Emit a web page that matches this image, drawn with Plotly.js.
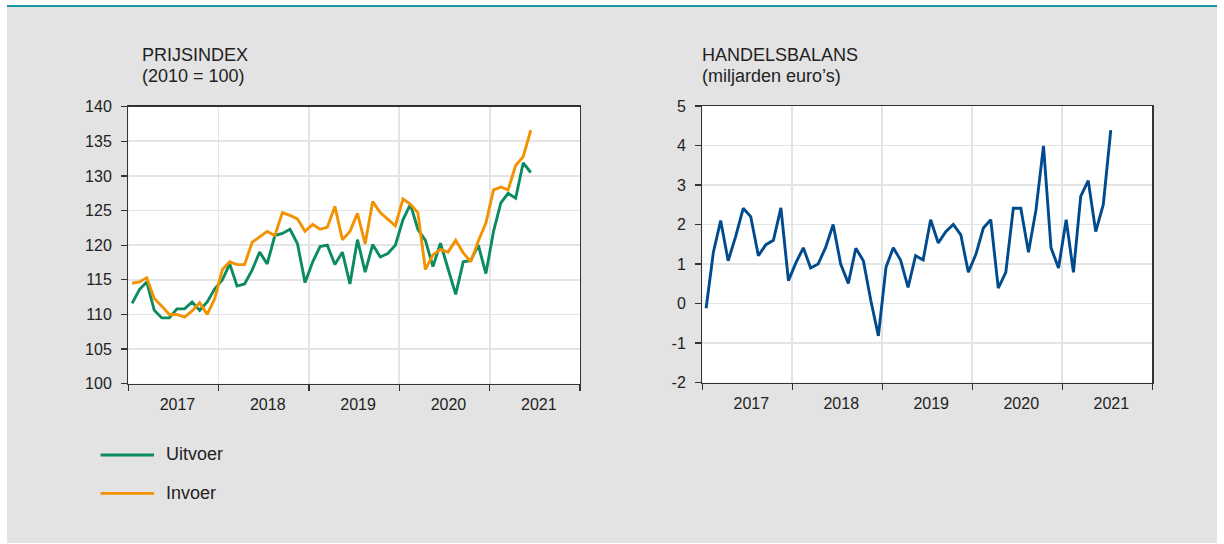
<!DOCTYPE html>
<html>
<head>
<meta charset="utf-8">
<script src="https://cdn.plot.ly/plotly-3.0.1.min.js"></script>
<style>
  html, body { margin: 0; padding: 0; background: #ffffff; }
  #wrap { position: relative; width: 1224px; height: 544px; overflow: hidden; }
  #bg { position: absolute; left: 7px; top: 5px; width: 1210px; height: 536px;
        background: #e3e3e3; border-top: 2px solid #1a98a3; }
  #chart { position: absolute; left: 0; top: 0; width: 1224px; height: 544px; }
</style>
</head>
<body>
<div id="wrap">
  <div id="bg"></div>
  <div id="chart"></div>
</div>
<script>
// ---- data (monthly, starting January 2017) ----
var startYear = 2017;
var yearLabels = ["2017", "2018", "2019", "2020", "2021"];

var uitvoer = [
  111.6, 113.6, 114.7, 110.6, 109.5, 109.5, 110.8, 110.8, 111.8, 110.6, 111.8, 113.7,
  115.0, 117.3, 114.1, 114.4, 116.4, 119.0, 117.3, 121.4, 121.7, 122.3, 120.2, 114.6,
  117.6, 119.8, 120.0, 117.2, 119.0, 114.4, 120.8, 116.1, 120.1, 118.3, 118.8, 120.0,
  123.7, 125.9, 122.3, 120.7, 116.9, 120.3, 116.6, 112.9, 117.6, 117.8, 120.0, 115.9,
  122.0, 126.1, 127.5, 126.8, 131.9, 130.5
];
var invoer = [
  114.5, 114.7, 115.3, 112.3, 111.2, 110.0, 110.0, 109.6, 110.5, 111.7, 110.0, 112.3,
  116.5, 117.6, 117.2, 117.2, 120.4, 121.2, 122.0, 121.4, 124.7, 124.3, 123.8, 122.0,
  123.0, 122.3, 122.6, 125.6, 120.8, 122.0, 124.6, 120.2, 126.3, 124.7, 123.7, 122.8,
  126.7, 125.9, 124.7, 116.5, 118.6, 119.4, 119.0, 120.7, 118.9, 117.6, 120.6, 123.2,
  128.0, 128.4, 128.0, 131.5, 132.8, 136.6
];
var handelsbalans = [
  -0.12, 1.30, 2.10, 1.08, 1.70, 2.41, 2.20, 1.21, 1.49, 1.60, 2.42, 0.58,
  1.04, 1.41, 0.90, 1.00, 1.42, 2.00, 1.00, 0.51, 1.40, 1.08, 0.07, -0.82,
  0.92, 1.41, 1.10, 0.41, 1.21, 1.10, 2.12, 1.53, 1.82, 2.00, 1.74, 0.79,
  1.25, 1.91, 2.12, 0.39, 0.79, 2.41, 2.41, 1.30, 2.37, 3.99, 1.41, 0.90,
  2.12, 0.79, 2.71, 3.11, 1.82, 2.50, 4.39
];

// y tick labels
var prijsTicks = [100, 105, 110, 115, 120, 125, 130, 135, 140];
var prijsTickText = ["100", "105", "110", "115", "120", "125", "130", "135", "140"];
var balansTicks = [-2, -1, 0, 1, 2, 3, 4, 5];
var balansTickText = ["-2", "-1", "0", "1", "2", "3", "4", "5"];

var seriesNames = ["Uitvoer", "Invoer", "Handelsbalans"];
var colors = { uitvoer: "#0b8b62", invoer: "#f39200", balans: "#004b8d" };

function monthLabels(n) {
  var out = [];
  for (var k = 0; k < n; k++) {
    var y = startYear + Math.floor(k / 12);
    var m = (k % 12) + 1;
    out.push(y + "-" + (m < 10 ? "0" + m : m));
  }
  return out;
}

var W = 1224, H = 544;
function px(x) { return x / W; }
function py(y) { return 1 - y / H; }

var FONT = "Liberation Sans, Arial, Helvetica, sans-serif";
var TXT = "#222222";

var traces = [
  { x: monthLabels(uitvoer.length), y: uitvoer, name: seriesNames[0], type: "scatter", mode: "lines",
    xperiod: "M1", xperiodalignment: "middle",
    line: { color: colors.uitvoer, width: 2.9 }, xaxis: "x", yaxis: "y", showlegend: false },
  { x: monthLabels(invoer.length), y: invoer, name: seriesNames[1], type: "scatter", mode: "lines",
    xperiod: "M1", xperiodalignment: "middle",
    line: { color: colors.invoer, width: 2.9 }, xaxis: "x", yaxis: "y", showlegend: false },
  { x: monthLabels(handelsbalans.length), y: handelsbalans, name: seriesNames[2], type: "scatter", mode: "lines",
    xperiod: "M1", xperiodalignment: "middle",
    line: { color: colors.balans, width: 2.9 }, xaxis: "x2", yaxis: "y2", showlegend: false }
];

function xAxis(domain, anchor) {
  return {
    domain: domain, anchor: anchor, type: "date",
    range: ["2017-01-01", "2022-01-01"],
    tick0: "2017-01-01", dtick: "M12", tickformat: "%Y", ticklabelmode: "period",
    ticks: "outside", ticklen: 6, tickwidth: 1.3, tickcolor: "#333333",
    showline: true, linecolor: "#333333", linewidth: 1.3, mirror: true,
    showgrid: true, gridcolor: "#e4e4e4", gridwidth: 1.7,
    tickfont: { family: FONT, size: 16, color: TXT },
    ticklabelshift: 4, ticklabelstandoff: 0,
    zeroline: false, fixedrange: true
  };
}
function yAxis(domain, anchor, range, vals, text) {
  return {
    domain: domain, anchor: anchor, range: range,
    tickmode: "array", tickvals: vals, ticktext: text,
    ticks: "outside", ticklen: 6, tickwidth: 1.3, tickcolor: "#333333",
    showline: true, linecolor: "#333333", linewidth: 1.3, mirror: true,
    showgrid: true, gridcolor: "#e4e4e4", gridwidth: 1.7,
    tickfont: { family: FONT, size: 16, color: TXT },
    ticklabelstandoff: 6,
    zeroline: false, fixedrange: true
  };
}

var annFont = { family: FONT, size: 18, color: TXT };
var layout = {
  width: W, height: H,
  margin: { l: 0, r: 0, t: 0, b: 0, pad: 0 },
  paper_bgcolor: "rgba(0,0,0,0)", plot_bgcolor: "#ffffff",
  showlegend: false,
  xaxis: xAxis([px(128.3), px(580)], "y"),
  yaxis: yAxis([py(383.7), py(106.7)], "x", [100, 140], prijsTicks, prijsTickText),
  xaxis2: xAxis([px(702.3), px(1152.3)], "y2"),
  yaxis2: yAxis([py(382.5), py(106)], "x2", [-2, 5], balansTicks, balansTickText),
  annotations: [
    { text: "PRIJSINDEX", xref: "paper", yref: "paper", x: px(140), y: py(54.5), xanchor: "left", yanchor: "middle", showarrow: false, font: annFont },
    { text: "(2010 = 100)", xref: "paper", yref: "paper", x: px(140), y: py(76), xanchor: "left", yanchor: "middle", showarrow: false, font: annFont },
    { text: "HANDELSBALANS", xref: "paper", yref: "paper", x: px(700), y: py(54.5), xanchor: "left", yanchor: "middle", showarrow: false, font: annFont },
    { text: "(miljarden euro\u2019s)", xref: "paper", yref: "paper", x: px(700), y: py(76), xanchor: "left", yanchor: "middle", showarrow: false, font: annFont },
    { text: seriesNames[0], xref: "paper", yref: "paper", x: px(164), y: py(454), xanchor: "left", yanchor: "middle", showarrow: false, font: annFont },
    { text: seriesNames[1], xref: "paper", yref: "paper", x: px(164), y: py(492.5), xanchor: "left", yanchor: "middle", showarrow: false, font: annFont }
  ],
  shapes: [
    { type: "line", xref: "paper", yref: "paper", x0: px(100.5), x1: px(154), y0: py(455), y1: py(455), line: { color: colors.uitvoer, width: 2.8 } },
    { type: "line", xref: "paper", yref: "paper", x0: px(100.5), x1: px(154), y0: py(493.3), y1: py(493.3), line: { color: colors.invoer, width: 2.8 } }
  ]
};

Plotly.newPlot("chart", traces, layout, { displayModeBar: false, staticPlot: true });
</script>
</body>
</html>
